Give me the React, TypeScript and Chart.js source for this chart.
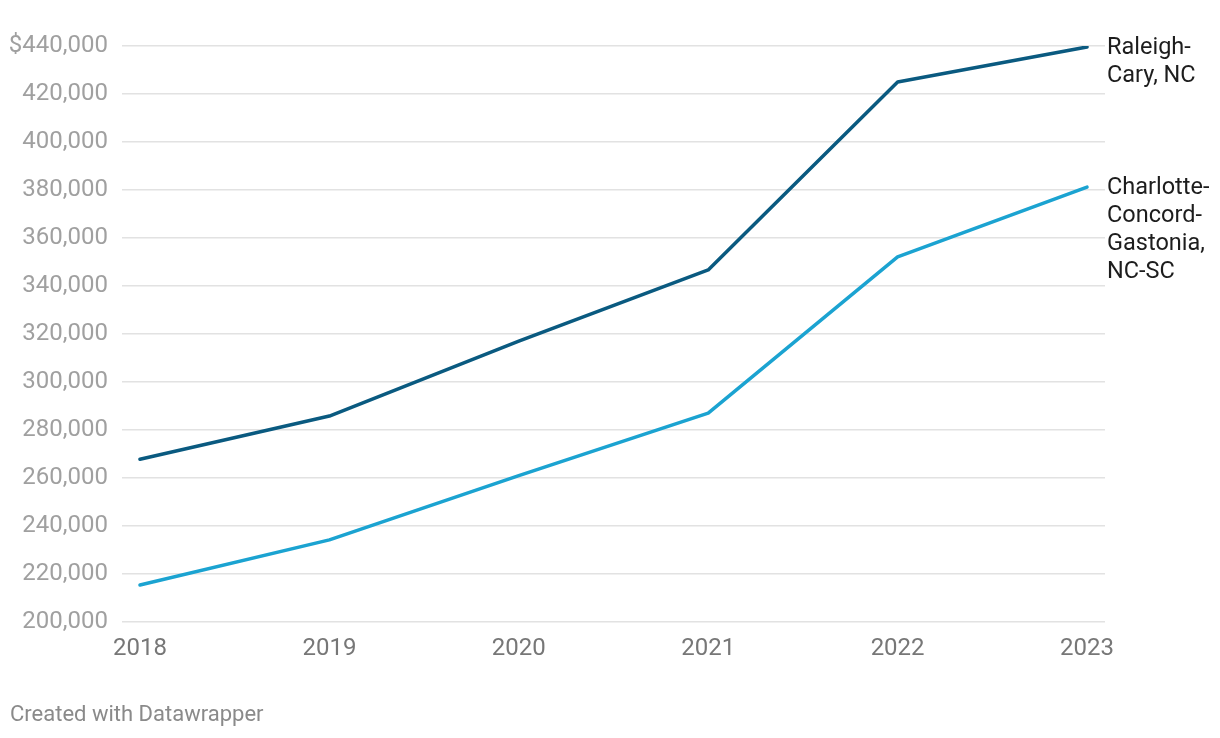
import React, { useEffect, useRef } from "react";
import { Chart, registerables } from "chart.js";

Chart.register(...registerables);

const years = [2018, 2019, 2020, 2021, 2022, 2023];
const raleigh = [267800, 285800, 317000, 346700, 425000, 439600];
const charlotte = [215400, 234200, 261000, 287000, 352100, 381200];
const yTicks = [200000, 220000, 240000, 260000, 280000, 300000, 320000, 340000, 360000, 380000, 400000, 420000, 440000];
const raleighLabel = ["Raleigh-", "Cary, NC"];
const charlotteLabel = ["Charlotte-", "Concord-", "Gastonia,", "NC-SC"];
const footer = "Created with Datawrapper";

const FONT = "Roboto, 'Noto Sans', sans-serif";

export default function App() {
  const ref = useRef<HTMLCanvasElement | null>(null);

  useEffect(() => {
    if (!ref.current) return;
    const labelPlugin = {
      id: "endLabels",
      afterDraw(chart: any) {
        const ctx = chart.ctx;
        ctx.save();
        ctx.font = `23.5px ${FONT}`;
        ctx.fillStyle = "#1d1d1d";
        ctx.textAlign = "left";
        ctx.textBaseline = "middle";
        const groups = [raleighLabel, charlotteLabel];
        chart.data.datasets.forEach((ds: any, i: number) => {
          const meta = chart.getDatasetMeta(i);
          const last = meta.data[meta.data.length - 1];
          const lines = groups[i];
          lines.forEach((t: string, j: number) => {
            ctx.fillText(t, last.x + 20, last.y + 1 + j * 28);
          });
        });
        ctx.font = `22px ${FONT}`;
        ctx.fillStyle = "#8a8a8a";
        ctx.textBaseline = "middle";
        ctx.fillText(footer, 10, 715);
        ctx.restore();
      },
    };

    const chart = new Chart(ref.current, {
      type: "line",
      data: {
        datasets: [
          {
            label: "Raleigh-Cary, NC",
            data: years.map((y, i) => ({ x: y, y: raleigh[i] })),
            borderColor: "#0a5a80",
            borderWidth: 3.5,
            pointRadius: 0,
            tension: 0,
            borderCapStyle: "round",
            borderJoinStyle: "round",
          },
          {
            label: "Charlotte-Concord-Gastonia, NC-SC",
            data: years.map((y, i) => ({ x: y, y: charlotte[i] })),
            borderColor: "#1ba3d1",
            borderWidth: 3.5,
            pointRadius: 0,
            tension: 0,
            borderCapStyle: "round",
            borderJoinStyle: "round",
          },
        ],
      },
      options: {
        animation: false,
        responsive: false,
        maintainAspectRatio: false,
        layout: { padding: { top: 46, right: 115, bottom: 0, left: 0 } },
        plugins: { legend: { display: false }, tooltip: { enabled: false } },
        scales: {
          x: {
            type: "linear",
            min: 2017.905,
            max: 2023.095,
            afterBuildTicks: (scale: any) => {
              scale.ticks = years.map((v) => ({ value: v }));
            },
            afterFit: (scale: any) => {
              scale.height = 116;
            },
            grid: { display: false, drawTicks: false },
            border: { display: false },
            ticks: {
              autoSkip: false,
              maxRotation: 0,
              padding: 13,
              color: "#777777",
              font: { family: FONT, size: 24 },
              callback: (v: any) => String(v),
            },
          },
          y: {
            type: "linear",
            min: 200000,
            max: 440000,
            afterBuildTicks: (scale: any) => {
              scale.ticks = yTicks.map((v) => ({ value: v }));
            },
            afterFit: (scale: any) => {
              scale.width = 122;
            },
            grid: { color: "#e2e2e2", lineWidth: 1.5, drawTicks: false },
            border: { display: false },
            ticks: {
              padding: 14,
              color: "#a0a0a0",
              font: { family: FONT, size: 24 },
              callback: (v: any) =>
                (v === 440000 ? "$" : "") + Number(v).toLocaleString("en-US"),
            },
          },
        },
      },
      plugins: [labelPlugin],
    });
    return () => chart.destroy();
  }, []);

  return (
    <div style={{ position: "absolute", left: 0, top: 0, width: 1220, height: 738 }}>
      <canvas ref={ref} width={1220} height={738} style={{ display: "block" }} />
    </div>
  );
}
